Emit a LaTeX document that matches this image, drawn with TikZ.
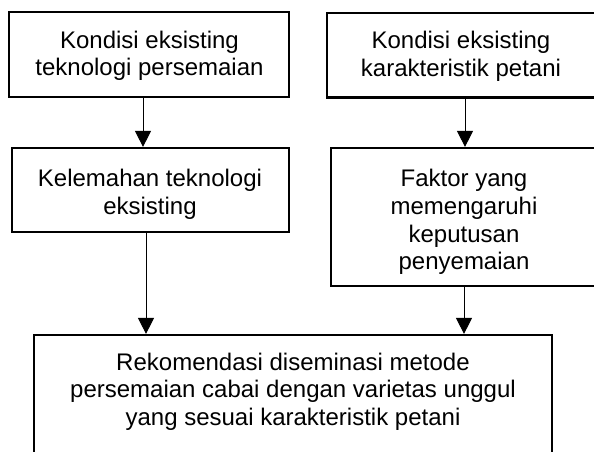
\documentclass[tikz,border=0pt]{standalone}
\usepackage{fontspec}
\setmainfont{Liberation Sans}
\usetikzlibrary{arrows.meta}
\tikzset{
  boxnode/.style={draw=black, line width=2.2pt, inner sep=0pt, rectangle},
  txt/.style={font=\fontsize{24}{27.6}\selectfont, align=center, inner sep=0pt, anchor=north},
  arr/.style={line width=1pt, -{Triangle[length=16pt,width=16pt]}}
}
\begin{document}
\begin{tikzpicture}[x=1pt,y=-1pt]
\useasboundingbox (0,0) rectangle (594,451);
\clip (0,0) rectangle (594,451);
% boxes
\node[boxnode, minimum width=280pt, minimum height=85pt] (b1) at (149,54.5) {};
\node[boxnode, minimum width=269pt, minimum height=84.5pt] (b2) at (461.5,55.25) {};
\node[boxnode, minimum width=277pt, minimum height=84pt] (b3) at (150.5,190) {};
\node[boxnode, minimum width=266pt, minimum height=138pt] (b4) at (464,217) {};
\node[boxnode, minimum width=518pt, minimum height=145pt] (b5) at (293,407.5) {};
% texts
\node[txt] (t1) at (149.5,30.8) {Kondisi eksisting\\teknologi persemaian};
\node[txt] (t2) at (461,31.3) {Kondisi eksisting\\karakteristik petani};
\node[txt] (t3) at (150,169.3) {Kelemahan teknologi\\eksisting};
\node[txt] (t4) at (464,169.3) {Faktor yang\\memengaruhi\\keputusan\\penyemaian};
\node[txt] (t5) at (293,352.7) {Rekomendasi diseminasi metode\\persemaian cabai dengan varietas unggul\\yang sesuai karakteristik petani};
% arrow columns
\coordinate (x1) at (143,0);
\coordinate (x2) at (465,0);
\coordinate (x3) at (146,0);
\coordinate (x4) at (464,0);
\draw[arr] (b1.south -| x1) -- (b3.north -| x1);
\draw[arr] (b2.south -| x2) -- (b4.north -| x2);
\draw[arr] (b3.south -| x3) -- (b5.north -| x3);
\draw[arr] (b4.south -| x4) -- (b5.north -| x4);
\end{tikzpicture}
\end{document}
